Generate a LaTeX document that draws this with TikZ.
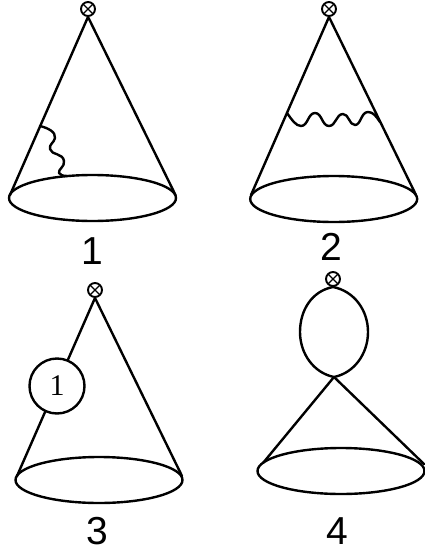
\documentclass[tikz,border=0pt]{standalone}
\usepackage{fontspec}
\setmainfont{Liberation Sans}
\newfontfamily\serifnum{Liberation Serif}
\usetikzlibrary{shapes.geometric}
\tikzset{
  line/.style={line width=2.4pt,line cap=round,line join=round},
  marker/.style={circle,draw,line width=1.9pt,minimum size=14pt,inner sep=0pt,fill=white,
    path picture={\draw[line width=1.3pt]
      (path picture bounding box.south west)--(path picture bounding box.north east)
      (path picture bounding box.north west)--(path picture bounding box.south east);}},
  base/.style={ellipse,draw,line width=2.4pt,minimum width=167pt,minimum height=46pt,inner sep=0pt},
  lab/.style={font=\fontsize{39}{39}\selectfont,inner sep=0pt},
  loopnum/.style={circle,draw,line width=2.4pt,fill=white,minimum size=55pt,inner sep=0pt},
}
\begin{document}
\begin{tikzpicture}[x=1pt,y=-1pt]
\useasboundingbox (0,0) rectangle (425,552);
% diagram 1
\node[marker] (m1) at (88,9) {};
\node[base] (b1) at (92.5,198) {};
\coordinate (l1) at (10,195);
\coordinate (r1) at (175.5,195);
\draw[line] (l1) -- (m1.south) -- (r1);
\coordinate (w1s) at (40,126);
\coordinate (w1e) at (67,176);
\draw[line] (w1s) .. controls (48,128) and (56,132) .. (55,138)
  .. controls (54,143) and (49,144) .. (50,149)
  .. controls (51,155) and (63,153) .. (64,161)
  .. controls (65,167) and (58,169) .. (59,173)
  .. controls (60,175) and (63,176) .. (w1e);
\node[lab] (t1) at (92,251) {1};
% diagram 2
\node[marker] (m2) at (329,9) {};
\node[base] (b2) at (333.7,199) {};
\coordinate (l2) at (251,195);
\coordinate (r2) at (416,195);
\draw[line] (l2) -- (m2.south) -- (r2);
\coordinate (w2s) at (287,113);
\coordinate (w2e) at (380,122);
\draw[line] (w2s) .. controls (292,120) and (296,126) .. (301,126)
  .. controls (308,126) and (308,113) .. (315,113)
  .. controls (322,113) and (322,126) .. (329,126)
  .. controls (336,126) and (336,114) .. (343,114)
  .. controls (349,114) and (349,125) .. (355,125)
  .. controls (361,125) and (361,112) .. (368,112)
  .. controls (373,112) and (376,116) .. (w2e);
\node[lab] (t2) at (331,247) {2};
% diagram 3
\node[marker] (m3) at (95,290) {};
\node[base] (b3) at (99,480) {};
\coordinate (l3) at (17,476);
\coordinate (r3) at (182,476);
\draw[line] (l3) -- (m3.south) -- (r3);
\node[loopnum] (c3) at (57,386) {\fontsize{30}{30}\selectfont\serifnum 1};
\node[lab] (t3) at (97,531) {3};
% diagram 4
\node[marker] (m4) at (333,279) {};
\coordinate (top4) at (333,287);
\coordinate (mid4) at (334,377);
\node[base] (b4) at (341,471) {};
\coordinate (l4) at (263,463);
\coordinate (r4) at (424,464);
\draw[line] (top4) .. controls (312,291) and (300,310) .. (300,332)
  .. controls (300,354) and (314,373) .. (mid4)
  .. controls (354,373) and (368,354) .. (368,332)
  .. controls (368,310) and (354,291) .. (top4);
\draw[line] (l4) -- (mid4) -- (r4);
\node[lab] (t4) at (337,531) {4};
\end{tikzpicture}
\end{document}
